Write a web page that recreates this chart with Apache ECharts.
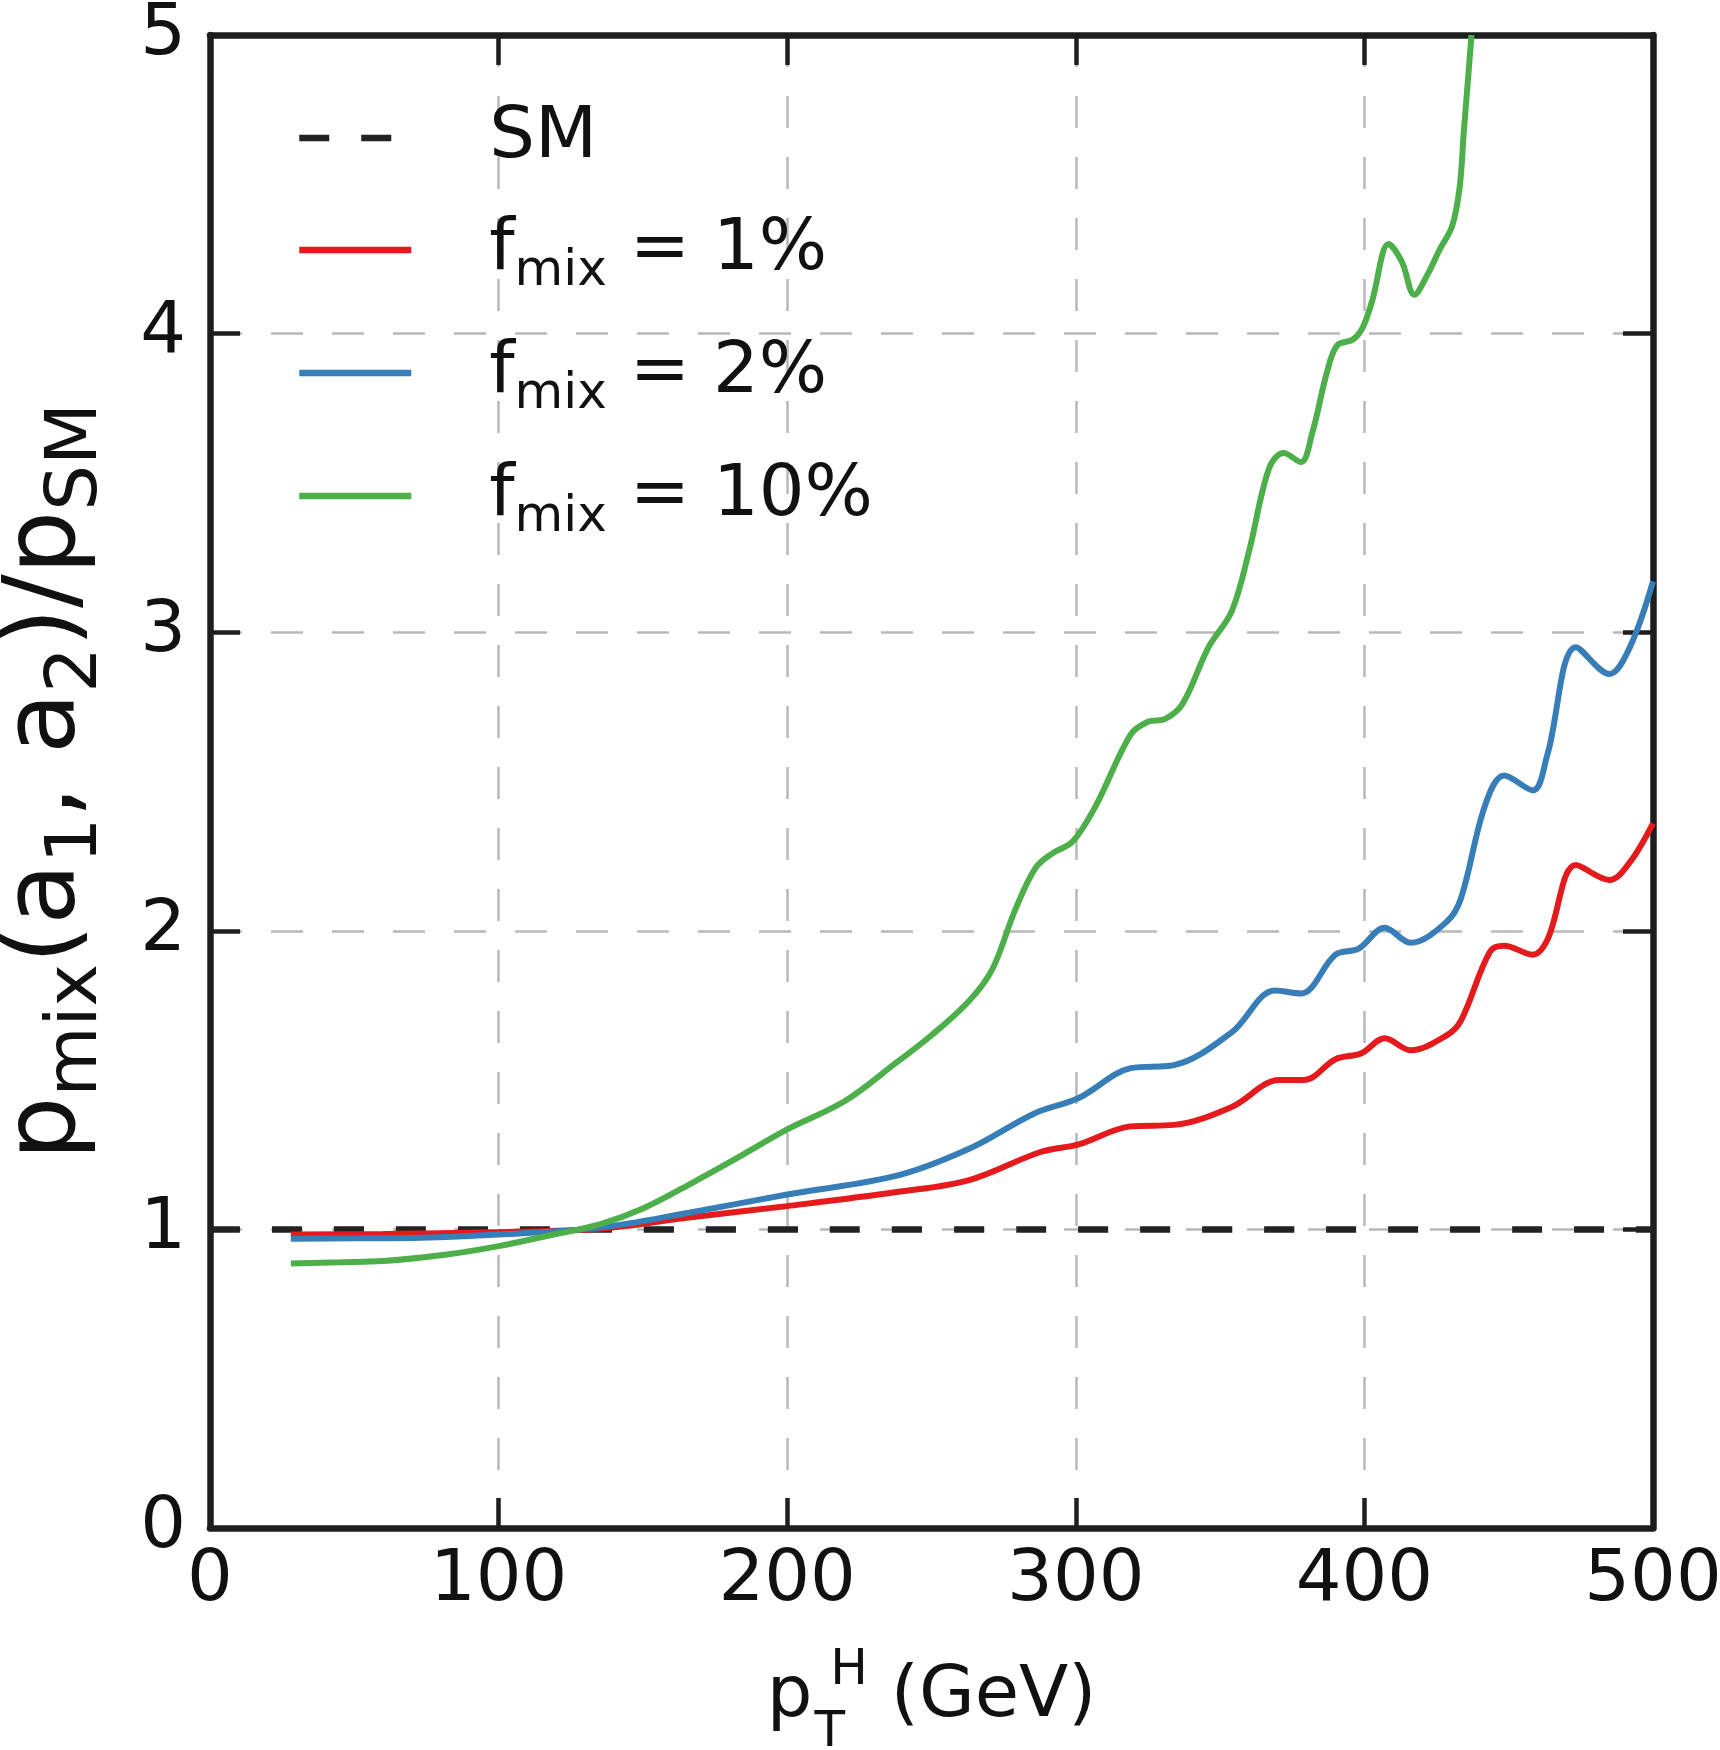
<!DOCTYPE html>
<html>
<head>
<meta charset="utf-8">
<script src="https://cdn.jsdelivr.net/npm/echarts@6/dist/echarts.min.js"></script>
<style>
html,body{margin:0;padding:0;background:#ffffff;}
#chart{width:1720px;height:1750px;}
</style>
</head>
<body>
<div id="chart"></div>
<script>
// ---- data ----
const xTicks = [0, 100, 200, 300, 400, 500];
const yTicks = [0, 1, 2, 3, 4, 5];
const seriesNames = ['SM', 'f_mix = 1%', 'f_mix = 2%', 'f_mix = 10%'];

const smX = [0, 500];
const smY = [1, 1];

const f1X = [28, 60, 100, 135, 166, 200, 238, 263, 288, 301, 319, 334, 354, 370.5, 379, 390, 399, 407, 416, 428.5, 433.5, 443.5, 448.4, 458.4, 463.4, 473.3, 484.9, 492, 500];
const f1Y = [0.983, 0.985, 0.991, 1.002, 1.04, 1.078, 1.125, 1.165, 1.26, 1.285, 1.345, 1.35, 1.41, 1.50, 1.50, 1.57, 1.59, 1.64, 1.60, 1.65, 1.70, 1.93, 1.95, 1.92, 1.97, 2.22, 2.17, 2.23, 2.36];

const f2X = [28, 50, 73, 100, 135, 166, 200, 238, 263, 286, 301, 319, 334, 354, 369, 378, 390, 398, 407, 416, 428.5, 433.5, 441.8, 448.4, 458.4, 463.4, 473.3, 484.9, 492, 500];
const f2Y = [0.969, 0.97, 0.972, 0.983, 1.006, 1.056, 1.117, 1.18, 1.27, 1.39, 1.44, 1.54, 1.55, 1.66, 1.80, 1.79, 1.92, 1.94, 2.01, 1.96, 2.03, 2.11, 2.42, 2.52, 2.47, 2.59, 2.95, 2.86, 2.95, 3.17];

const f10X = [28, 45, 60, 82, 100, 119, 135, 150, 166, 181, 200, 220, 238, 250, 263, 271, 279, 286, 292, 299, 307, 319, 325, 331, 337, 346, 354, 360, 367, 372, 378, 382, 387, 390.5, 396, 399.4, 402.7, 408.4, 413, 417.3, 422, 426, 430.4, 433, 434.4, 435.8, 437.1];
const f10Y = [0.886, 0.89, 0.894, 0.916, 0.944, 0.983, 1.017, 1.07, 1.15, 1.23, 1.335, 1.43, 1.56, 1.65, 1.765, 1.87, 2.07, 2.21, 2.26, 2.30, 2.42, 2.657, 2.70, 2.71, 2.76, 2.95, 3.07, 3.27, 3.55, 3.60, 3.57, 3.67, 3.87, 3.96, 3.98, 4.02, 4.11, 4.30, 4.24, 4.13, 4.20, 4.28, 4.36, 4.49, 4.67, 4.84, 5.0];

const seriesColors = ['#222222', '#e41a1c', '#377eb8', '#4daf4a'];

// ---- chart ----
const zip = (xs, ys) => xs.map((x, i) => [x, ys[i]]);
const FONT = 'DejaVu Sans';
const INK = '#111111';
const AX = '#1e1e1e';

const xMin = xTicks[0], xMax = xTicks[xTicks.length - 1], xInt = xTicks[1] - xTicks[0];
const yMin = yTicks[0], yMax = yTicks[yTicks.length - 1], yInt = yTicks[1] - yTicks[0];

const axisLineStyle = { show: true, onZero: false, lineStyle: { color: AX, width: 6.5 } };
const tickStyle = { show: true, inside: true, length: 30, lineStyle: { color: AX, width: 4.5 } };
const gridLineStyle = { show: true, lineStyle: { color: '#b8b8b8', width: 2.5, type: [32, 29] } };
const labelStyle = { fontSize: 72, fontFamily: FONT, color: INK };

const chart = echarts.init(document.getElementById('chart'), null, { renderer: 'canvas' });

const lineSeries = (name, data, color, width, dash, z) => ({
  name: name,
  type: 'line',
  data: data,
  showSymbol: false,
  symbol: 'none',
  smooth: 0.35,
  clip: true,
  z: z,
  lineStyle: { color: color, width: width, type: dash },
  itemStyle: { color: color },
  emphasis: { disabled: true }
});

const option = {
  animation: false,
  backgroundColor: '#ffffff',
  grid: { left: 210, right: 67, top: 35, bottom: 222, containLabel: false, outerBoundsMode: 'none' },
  legend: {
    orient: 'vertical',
    left: 296,
    top: 102,
    padding: 0,
    itemGap: 40,
    itemWidth: 112,
    itemHeight: 20,
    data: seriesNames,
    lineStyle: { width: 6.5 },
    itemStyle: { color: 'rgba(0,0,0,0)', borderColor: 'rgba(0,0,0,0)', borderWidth: 0 },
    textStyle: {
      padding: [0, 0, 0, 73],
      fontFamily: FONT,
      color: INK,
      rich: {
        m: { fontSize: 72, lineHeight: 94, fontFamily: FONT, color: INK },
        s: { fontSize: 50, lineHeight: 50, verticalAlign: 'bottom', fontFamily: FONT, color: INK }
      }
    },
    formatter: function (n) {
      if (n.indexOf('f_mix') === 0) {
        return '{m|f}{s|mix}{m|' + n.slice(5) + '}';
      }
      return '{m|' + n + '}';
    }
  },
  xAxis: [
    {
      type: 'value', position: 'bottom', min: xMin, max: xMax, interval: xInt,
      axisLine: axisLineStyle, axisTick: tickStyle, splitLine: gridLineStyle,
      axisLabel: Object.assign({ margin: 17, showMinLabel: true, showMaxLabel: true }, labelStyle),
      name: '{p|p}{t|T}{h|H}{r| (GeV)}',
      nameLocation: 'middle',
      nameGap: 108,
      nameTextStyle: {
        rich: {
          p: { fontSize: 72, lineHeight: 122, fontFamily: FONT, color: INK },
          r: { fontSize: 72, lineHeight: 122, fontFamily: FONT, color: INK },
          t: { fontSize: 50, lineHeight: 50, verticalAlign: 'bottom', width: 1, padding: [0, 0, 0, 17], fontFamily: FONT, color: INK },
          h: { fontSize: 50, lineHeight: 50, verticalAlign: 'top', padding: [10, 0, 0, 0], fontFamily: FONT, color: INK }
        }
      }
    },
    {
      type: 'value', position: 'top', min: xMin, max: xMax, interval: xInt,
      axisLine: axisLineStyle, axisTick: tickStyle, splitLine: { show: false },
      axisLabel: { show: false }
    }
  ],
  yAxis: [
    {
      type: 'value', position: 'left', min: yMin, max: yMax, interval: yInt,
      axisLine: axisLineStyle, axisTick: tickStyle, splitLine: gridLineStyle,
      axisLabel: Object.assign({ margin: 24, showMinLabel: true, showMaxLabel: true }, labelStyle),
      name: '{p|p}{s|mix}{p|(a}{s|1}{p|, a}{s|2}{p|)/p}{s|SM}',
      nameLocation: 'middle',
      nameGap: 97,
      nameTextStyle: {
        rich: {
          p: { fontSize: 100, lineHeight: 130, fontFamily: FONT, color: INK },
          s: { fontSize: 72, lineHeight: 72, verticalAlign: 'bottom', fontFamily: FONT, color: INK }
        }
      }
    },
    {
      type: 'value', position: 'right', min: yMin, max: yMax, interval: yInt,
      axisLine: axisLineStyle, axisTick: tickStyle, splitLine: { show: false },
      axisLabel: { show: false }
    }
  ],
  series: [
    lineSeries(seriesNames[0], zip(smX, smY), seriesColors[0], 6.5, [30, 32], 2),
    lineSeries(seriesNames[1], zip(f1X, f1Y), seriesColors[1], 6, 'solid', 3),
    lineSeries(seriesNames[2], zip(f2X, f2Y), seriesColors[2], 6, 'solid', 4),
    lineSeries(seriesNames[3], zip(f10X, f10Y), seriesColors[3], 6, 'solid', 5)
  ]
};
chart.setOption(option);
</script>
</body>
</html>
